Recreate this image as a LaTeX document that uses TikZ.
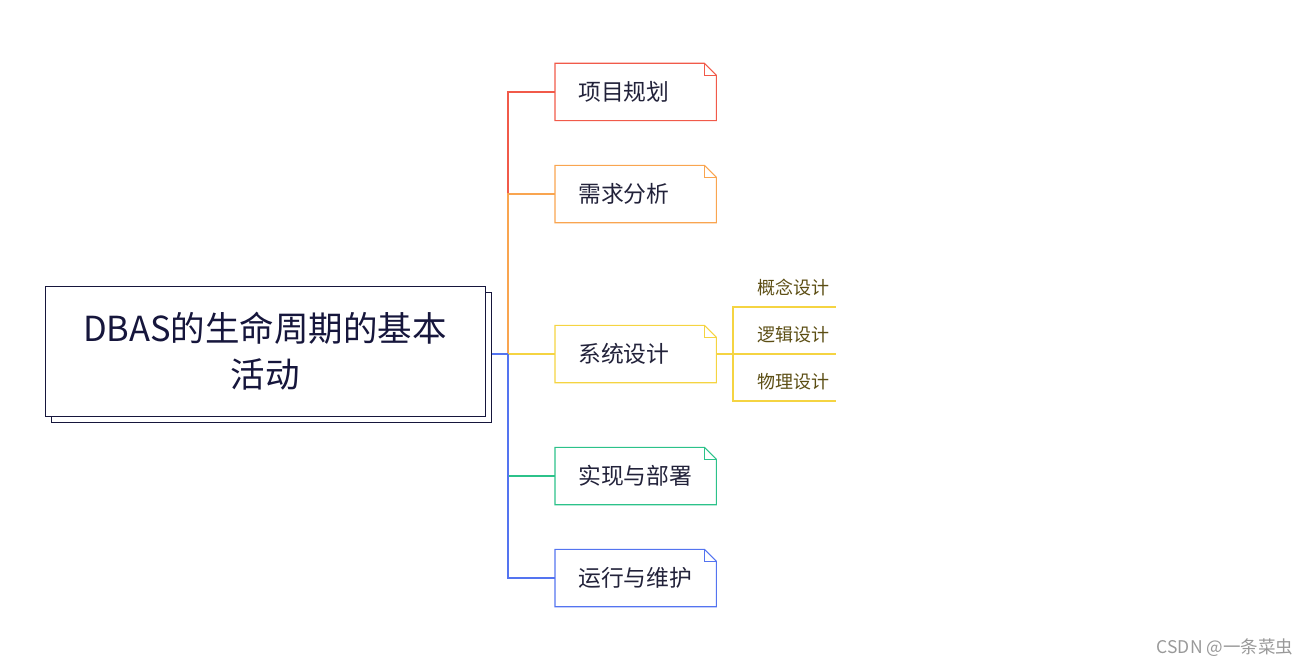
\documentclass[tikz,border=0pt]{standalone}
\usepackage{fontspec}
\setmainfont{Noto Sans CJK SC}
\usetikzlibrary{shadows,calc}
\definecolor{navy}{HTML}{16163C}
\definecolor{ink}{HTML}{22223A}
\definecolor{subink}{HTML}{5C4E14}
\definecolor{plancol}{HTML}{F15A4A}
\definecolor{needcol}{HTML}{F9A550}
\definecolor{designcol}{HTML}{F5D442}
\definecolor{buildcol}{HTML}{2CC28A}
\definecolor{runcol}{HTML}{5474F0}
\tikzset{
  rootbox/.style={draw=navy, fill=white, line width=1pt, minimum width=440pt,
    minimum height=130pt, align=center, text=navy,
    font=\fontsize{34.5}{46}\selectfont,
    copy shadow={shadow xshift=6pt, shadow yshift=-6pt}},
  topic/.style={minimum width=161pt, minimum height=57pt, text width=115pt,
    inner xsep=23pt, align=left, anchor=west, text=ink,
    font=\fontsize{22.8}{27}\selectfont},
  subtopic/.style={anchor=west, inner sep=0pt, text=subink,
    font=\fontsize{18}{22}\selectfont},
  link/.style={line width=1.1pt},
}
\begin{document}
\begin{tikzpicture}[x=1pt,y=-1pt]
\useasboundingbox (0,0) rectangle (1308,666);
\node[rootbox] (root) at (265,351) {DBAS的生命周期的基本\\活动};
\coordinate (hub) at (508,354);
% topics
\node[topic] (plan) at (555,92) {项目规划};
\node[topic] (need) at (555,194) {需求分析};
\node[topic] (design) at (555,354) {系统设计};
\node[topic] (build) at (555,476) {实现与部署};
\node[topic] (run) at (555,578) {运行与维护};
\foreach \n/\c in {plan/plancol,need/needcol,design/designcol,build/buildcol,run/runcol}{
  \draw[\c,link] (\n.north west) -- ([xshift=-12pt]\n.north east)
    -- ([yshift=-12pt]\n.north east) -- (\n.south east) -- (\n.south west) -- cycle;
  \draw[\c,link] ([xshift=-12pt]\n.north east) |- ([yshift=-12pt]\n.north east);
  \draw[\c,link] (hub) |- (\n.west);
}
\draw[runcol,link] ([xshift=6pt,yshift=-3pt]root.east) -- (hub);
% design details
\coordinate (fork) at (733,354);
\coordinate (c1) at (836,307);
\coordinate (c2) at (836,354);
\coordinate (c3) at (836,401);
\node[subtopic] (concept) at (757,288) {概念设计};
\node[subtopic] (logic) at (757,335) {逻辑设计};
\node[subtopic] (physical) at (757,382) {物理设计};
\draw[designcol,link] (design.east) -- (fork);
\foreach \e in {c1,c2,c3}
  \draw[designcol,link] (fork) |- (\e);
\node[text=gray!80, font=\fontsize{17.5}{20}\selectfont] (mark) at (1225,648) {CSDN @一条菜虫};
\end{tikzpicture}
\end{document}
